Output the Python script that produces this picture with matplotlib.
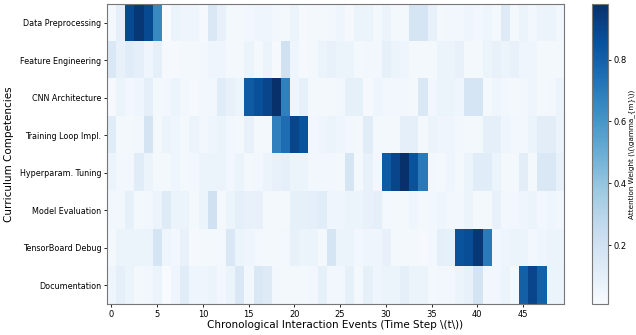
import numpy as np
import matplotlib
matplotlib.use('Agg')
import matplotlib.pyplot as plt

competencies = ['Data Preprocessing', 'Feature Engineering', 'CNN Architecture',
                'Training Loop Impl.', 'Hyperparam. Tuning', 'Model Evaluation',
                'TensorBoard Debug', 'Documentation']

# attention weights, one list of 50 time steps per competency
data_prep = [0.03, 0.10, 0.88, 0.95, 0.88, 0.65, 0.01, 0.07, 0.05, 0.05,
             0.02, 0.15, 0.08, 0.03, 0.03, 0.04, 0.05, 0.05, 0.04, 0.03,
             0.06, 0.02, 0.03, 0.03, 0.04, 0.05, 0.02, 0.06, 0.06, 0.03,
             0.06, 0.03, 0.03, 0.17, 0.17, 0.08, 0.03, 0.04, 0.04, 0.05,
             0.04, 0.05, 0.03, 0.13, 0.03, 0.06, 0.04, 0.06, 0.06, 0.04]
feat_eng = [0.15, 0.08, 0.12, 0.10, 0.05, 0.10, 0.02, 0.02, 0.03, 0.03,
            0.04, 0.05, 0.05, 0.03, 0.03, 0.06, 0.03, 0.07, 0.02, 0.20,
            0.05, 0.02, 0.03, 0.07, 0.08, 0.07, 0.07, 0.03, 0.04, 0.04,
            0.09, 0.07, 0.05, 0.03, 0.03, 0.03, 0.06, 0.06, 0.08, 0.03,
            0.03, 0.07, 0.08, 0.06, 0.08, 0.05, 0.05, 0.03, 0.03, 0.03]
cnn_arch = [0.02, 0.06, 0.04, 0.05, 0.10, 0.03, 0.04, 0.07, 0.04, 0.02,
            0.04, 0.04, 0.12, 0.08, 0.06, 0.82, 0.86, 0.90, 0.98, 0.68,
            0.05, 0.09, 0.03, 0.03, 0.03, 0.04, 0.09, 0.09, 0.02, 0.05,
            0.04, 0.04, 0.04, 0.03, 0.15, 0.04, 0.06, 0.07, 0.05, 0.17,
            0.17, 0.03, 0.05, 0.04, 0.03, 0.04, 0.05, 0.03, 0.04, 0.06]
train_loop = [0.12, 0.03, 0.03, 0.04, 0.18, 0.03, 0.06, 0.05, 0.03, 0.07,
              0.04, 0.05, 0.06, 0.04, 0.03, 0.08, 0.03, 0.03, 0.68, 0.75,
              0.90, 0.85, 0.04, 0.05, 0.06, 0.05, 0.04, 0.03, 0.12, 0.03,
              0.03, 0.03, 0.10, 0.10, 0.03, 0.07, 0.05, 0.05, 0.04, 0.03,
              0.03, 0.10, 0.10, 0.05, 0.04, 0.04, 0.06, 0.11, 0.11, 0.07]
hyper_tune = [0.07, 0.04, 0.04, 0.12, 0.06, 0.03, 0.03, 0.05, 0.03, 0.04,
              0.06, 0.07, 0.07, 0.04, 0.06, 0.03, 0.04, 0.07, 0.08, 0.10,
              0.06, 0.06, 0.04, 0.04, 0.04, 0.03, 0.17, 0.03, 0.08, 0.04,
              0.82, 0.90, 0.98, 0.85, 0.70, 0.04, 0.03, 0.05, 0.03, 0.06,
              0.12, 0.12, 0.07, 0.03, 0.03, 0.11, 0.03, 0.15, 0.15, 0.08]
model_eval = [0.04, 0.04, 0.09, 0.03, 0.04, 0.06, 0.13, 0.06, 0.06, 0.03,
              0.07, 0.20, 0.03, 0.06, 0.10, 0.08, 0.08, 0.03, 0.03, 0.03,
              0.09, 0.09, 0.10, 0.12, 0.05, 0.05, 0.07, 0.06, 0.08, 0.10,
              0.04, 0.03, 0.03, 0.05, 0.03, 0.04, 0.05, 0.04, 0.04, 0.06,
              0.03, 0.03, 0.08, 0.04, 0.04, 0.05, 0.07, 0.04, 0.05, 0.04]
tb_debug = [0.03, 0.06, 0.06, 0.07, 0.07, 0.17, 0.05, 0.04, 0.08, 0.02,
            0.03, 0.03, 0.04, 0.15, 0.07, 0.05, 0.04, 0.03, 0.03, 0.04,
            0.08, 0.07, 0.06, 0.03, 0.17, 0.06, 0.06, 0.04, 0.05, 0.05,
            0.08, 0.03, 0.03, 0.03, 0.02, 0.04, 0.10, 0.09, 0.85, 0.87,
            0.95, 0.70, 0.04, 0.05, 0.06, 0.06, 0.04, 0.05, 0.06, 0.06]
documentation = [0.05, 0.10, 0.06, 0.03, 0.04, 0.06, 0.01, 0.05, 0.12, 0.05,
                 0.05, 0.07, 0.04, 0.06, 0.15, 0.04, 0.15, 0.13, 0.04, 0.03,
                 0.03, 0.03, 0.04, 0.09, 0.04, 0.04, 0.09, 0.03, 0.09, 0.05,
                 0.07, 0.07, 0.10, 0.07, 0.07, 0.03, 0.04, 0.04, 0.06, 0.08,
                 0.18, 0.04, 0.04, 0.06, 0.03, 0.80, 0.90, 0.80, 0.07, 0.07]

weights = np.array([data_prep, feat_eng, cnn_arch, train_loop,
                    hyper_tune, model_eval, tb_debug, documentation])

fig = plt.figure(figsize=(6.36, 3.35), dpi=100)
ax = fig.add_axes([0.168, 0.0925, 0.719, 0.896])
cax = fig.add_axes([0.931, 0.0925, 0.025, 0.896])

im = ax.imshow(weights, cmap='Blues', aspect='auto', interpolation='nearest')

ax.set_yticks(range(len(competencies)))
ax.set_yticklabels(competencies, fontsize=5.8)
ax.set_xticks(range(0, 50, 5))
ax.tick_params(axis='x', labelsize=6, length=2.5, width=0.6, pad=1.5)
ax.tick_params(axis='y', length=2.5, width=0.6, pad=1.5)
ax.set_xlabel('Chronological Interaction Events (Time Step \\(t\\))', fontsize=7.5, labelpad=1)
ax.set_ylabel('Curriculum Competencies', fontsize=7.5, labelpad=4)
for s in ax.spines.values():
    s.set_color('#777777')
    s.set_linewidth(0.8)

cb = fig.colorbar(im, cax=cax)
cb.set_label('Attention Weight (\\(\\gamma_{m}\\))', fontsize=5.2, labelpad=1)
cb.ax.tick_params(labelsize=6, length=2.5, width=0.6, pad=1.5)
cb.outline.set_edgecolor('#777777')
cb.outline.set_linewidth(0.8)

fig.savefig('out.png', dpi=100)
